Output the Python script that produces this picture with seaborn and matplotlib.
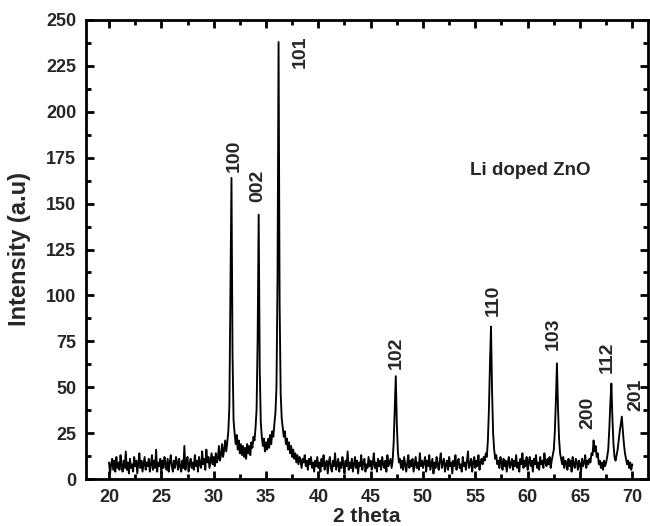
import numpy as np
import pandas as pd
import seaborn as sns
import matplotlib
matplotlib.use("Agg")
import matplotlib.pyplot as plt
from matplotlib.ticker import MultipleLocator

# ---- data (2-theta scan, 0.1 deg step, intensities) ----
scan_start = 20.0
scan_step = 0.1

seg_20_30 = [9, 3, 8, 11, 5, 10, 4, 12, 6, 9,
             5, 13, 7, 4, 10, 6, 15, 5, 9, 3,
             11, 6, 8, 4, 12, 7, 10, 3, 9, 14,
             6, 10, 4, 8, 12, 5, 9, 7, 11, 4,
             8, 13, 5, 10, 6, 16, 4, 9, 7, 11,
             3, 10, 6, 12, 8, 5, 11, 4, 9, 13,
             7, 4, 10, 6, 12, 9, 5, 11, 7, 4,
             10, 6, 18, 5, 9, 12, 4, 8, 11, 6,
             9, 5, 13, 7, 10, 4, 12, 8, 6, 15,
             8, 11, 5, 16, 9, 12, 6, 10, 14, 8]

seg_30_40 = [12, 7, 14, 9, 11, 18, 10, 13, 19, 12,
             16, 21, 15, 20, 26, 40, 100, 164, 68, 32,
             25, 19, 24, 16, 21, 14, 19, 13, 18, 12,
             17, 11, 19, 14, 18, 13, 20, 17, 23, 21,
             28, 38, 76, 144, 60, 31, 23, 18, 22, 15,
             20, 16, 22, 17, 24, 19, 26, 23, 30, 36,
             50, 108, 238, 95, 47, 33, 28, 23, 26, 19,
             22, 16, 20, 14, 18, 12, 16, 11, 14, 9,
             13, 8, 12, 10, 6, 11, 9, 13, 7, 10,
             5, 11, 8, 12, 6, 9, 4, 10, 7, 12]

seg_40_50 = [6, 9, 4, 11, 7, 13, 5, 8, 10, 3,
             9, 12, 6, 4, 10, 7, 14, 5, 8, 11,
             4, 9, 6, 12, 8, 3, 10, 7, 15, 5,
             9, 6, 11, 4, 8, 12, 6, 10, 3, 9,
             7, 13, 5, 9, 11, 4, 8, 6, 12, 7,
             10, 5, 8, 14, 6, 9, 4, 11, 7, 10,
             5, 12, 8, 6, 10, 4, 13, 7, 9, 11,
             6, 10, 20, 38, 56, 30, 15, 9, 11, 6,
             10, 5, 12, 8, 4, 9, 13, 6, 10, 7,
             11, 4, 8, 12, 6, 9, 5, 14, 7, 10]

seg_50_60 = [6, 9, 12, 4, 10, 7, 13, 5, 8, 11,
             3, 9, 6, 12, 8, 5, 10, 14, 6, 9,
             11, 4, 8, 10, 5, 12, 7, 9, 3, 10,
             7, 13, 5, 9, 11, 6, 8, 4, 12, 7,
             9, 5, 10, 15, 6, 8, 11, 4, 9, 12,
             6, 10, 7, 13, 5, 9, 11, 8, 12, 10,
             14, 12, 21, 38, 63, 83, 48, 25, 16, 11,
             13, 8, 10, 6, 12, 9, 5, 11, 7, 10,
             4, 9, 12, 6, 8, 11, 5, 10, 7, 13,
             6, 9, 4, 11, 8, 14, 6, 10, 7, 12]

seg_60_70 = [5, 9, 12, 7, 10, 4, 11, 8, 13, 6,
             9, 5, 12, 8, 10, 6, 14, 9, 7, 11,
             8, 12, 6, 10, 13, 16, 26, 43, 63, 39,
             22, 14, 11, 8, 12, 6, 10, 9, 5, 11,
             7, 10, 4, 12, 8, 6, 11, 9, 5, 10,
             8, 4, 11, 7, 9, 13, 6, 10, 8, 11,
             9, 14, 13, 21, 15, 18, 12, 14, 8, 10,
             6, 9, 5, 10, 7, 9, 12, 16, 27, 41,
             52, 33, 19, 12, 10, 13, 16, 21, 26, 30,
             34, 26, 19, 14, 11, 8, 10, 6, 9, 5,
             8]

peak_labels = ["100", "002", "101", "102", "110", "103", "200", "112", "201"]
label_x = [31.95, 34.25, 38.3, 47.45, 56.7, 62.45, 65.8, 67.6, 70.3]
label_y = [167, 151, 224, 60, 89, 70, 27, 58, 37]

sample_name = "Li doped ZnO"
x_title = "2 theta"
y_title = "Intensity (a.u)"

# ---- build table ----
intensity = np.array(seg_20_30 + seg_30_40 + seg_40_50 + seg_50_60 + seg_60_70, dtype=float)
two_theta = np.round(scan_start + scan_step * np.arange(len(intensity)), 2)
df = pd.DataFrame({"two_theta": two_theta, "intensity": intensity})

sns.set_theme(style="ticks")
plt.rcParams["font.family"] = ["Liberation Sans", "DejaVu Sans"]
plt.rcParams["font.weight"] = "bold"

fig = plt.figure(figsize=(6.5, 5.26), dpi=100)
ax = fig.add_axes([86 / 650, 1 - 479 / 526, (648 - 86) / 650, (479 - 20) / 526])

sns.lineplot(data=df, x="two_theta", y="intensity", color="black",
             linewidth=1.35, estimator=None, ax=ax)

ax.set_xlim(17.8, 71.5)
ax.set_ylim(0, 250)
ax.xaxis.set_major_locator(MultipleLocator(5))
ax.xaxis.set_minor_locator(MultipleLocator(2.5))
ax.yaxis.set_major_locator(MultipleLocator(25))
ax.yaxis.set_minor_locator(MultipleLocator(12.5))
ax.tick_params(which="both", direction="in", top=True, right=True,
               width=2, color="black", labelsize=13, pad=7)
ax.tick_params(which="major", length=6)
ax.tick_params(which="minor", length=3.5)
for lab in ax.get_xticklabels() + ax.get_yticklabels():
    lab.set_fontweight("bold")
for sp in ax.spines.values():
    sp.set_linewidth(2)
    sp.set_color("black")

ax.set_xlabel(x_title, fontsize=15, fontweight="bold", labelpad=1)
ax.set_ylabel(y_title, fontsize=17, fontweight="bold", labelpad=11)

for t, x, y in zip(peak_labels, label_x, label_y):
    ax.text(x, y, t, rotation=90, ha="center", va="bottom",
            fontsize=14, fontweight="bold")

ax.text(60.25, 168, sample_name, ha="center", va="center",
        fontsize=13.5, fontweight="bold")

fig.savefig("out.png", dpi=100)
